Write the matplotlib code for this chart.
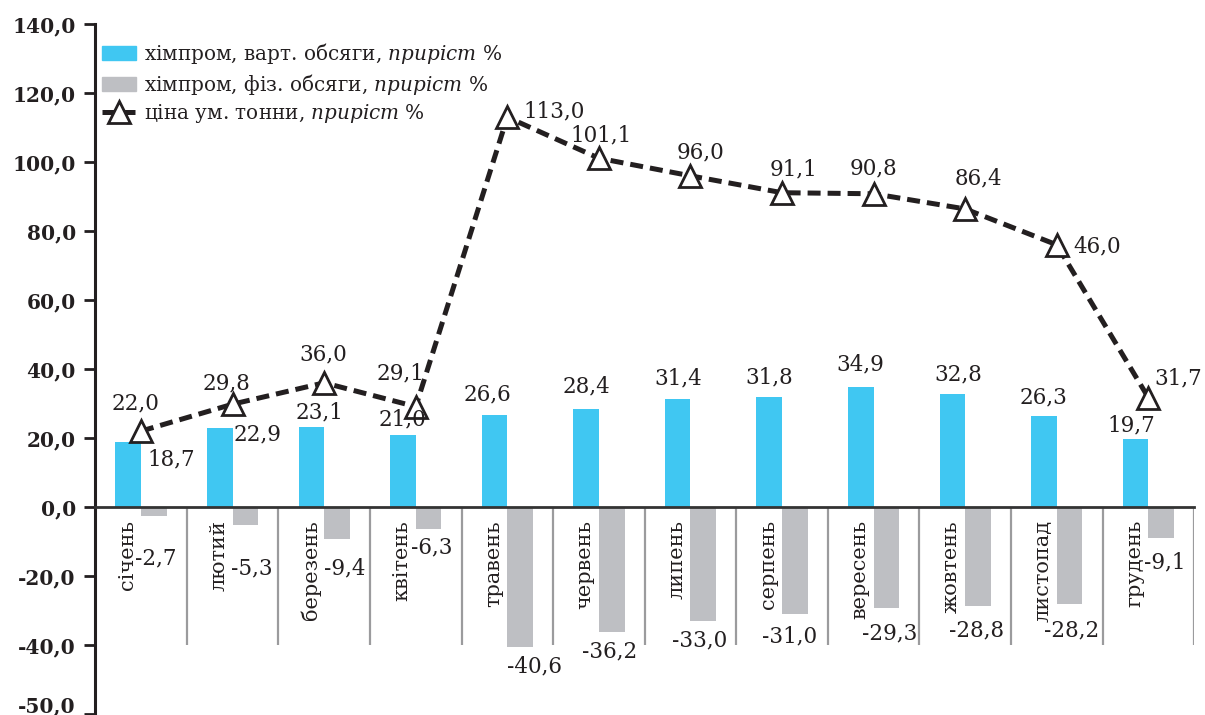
import numpy as np
import matplotlib
matplotlib.use("Agg")
import matplotlib.pyplot as plt
from matplotlib.patches import Patch
from matplotlib.lines import Line2D
from matplotlib.transforms import ScaledTranslation

plt.rcParams['font.family'] = ['DejaVu Serif', 'DejaVu Sans']
plt.rcParams['mathtext.fontset'] = 'custom'
plt.rcParams['mathtext.rm'] = 'DejaVu Serif'
plt.rcParams['mathtext.it'] = 'DejaVu Serif:italic'

#-- Data
months = ['січень', 'лютий', 'березень', 'квітень', 'травень', 'червень',
          'липень', 'серпень', 'вересень', 'жовтень', 'листопад', 'грудень']
value_growth = [18.7, 22.9, 23.1, 21.0, 26.6, 28.4, 31.4, 31.8, 34.9, 32.8, 26.3, 19.7]
volume_growth = [-2.7, -5.3, -9.4, -6.3, -40.6, -36.2, -33.0, -31.0, -29.3, -28.8, -28.2, -9.1]
price_growth = [22.0, 29.8, 36.0, 29.1, 113.0, 101.1, 96.0, 91.1, 90.8, 86.4, 76.0, 31.7]
price_labels = ['22,0', '29,8', '36,0', '29,1', '113,0', '101,1',
                '96,0', '91,1', '90,8', '86,4', '46,0', '31,7']
y_ticks = [-60, -40, -20, 0, 20, 40, 60, 80, 100, 120, 140]
y_tick_labels = ['-50,0', '-40,0', '-20,0', '0,0', '20,0', '40,0',
                 '60,0', '80,0', '100,0', '120,0', '140,0']
legend_names = ['хімпром, варт. обсяги, ', 'хімпром, фіз. обсяги, ', 'ціна ум. тонни, ']

#-- label offsets in pixels (hand placed, like in the source chart)
value_off = [(43, -17), (38, -6), (8, 15), (0, 15), (-7, 21), (0, 23),
             (1, 20), (0, 20), (0, 22), (6, 19), (0, 19), (-4, 14)]
volume_off = [(2, -42), (6, -43), (8, -29), (3, -19), (14, -19), (-2, -20),
              (-4, -20), (-5, -22), (3, -25), (-1, -24), (2, -26), (4, -24)]
price_off = [(-5, 28), (-6, 21), (-1, 28), (-15, 33), (47, 6), (2, 23),
             (10, 23), (11, 23), (0, 25), (13, 30), (40, -2), (30, 19)]

blue = '#40C7F2'
grey = '#BEBFC3'
ink = '#231F20'
fs = 15.5

def fmt(v):
    return f"{v:.1f}".replace('.', ',')

x = np.arange(len(months))
bw = 0.28

fig = plt.figure(figsize=(12.05, 7.15), dpi=100)
ax = fig.add_axes([0.079, 0.0014, 0.912, 0.965])

ax.bar(x - bw/2, value_growth, bw, color=blue, zorder=2)
ax.bar(x + bw/2, volume_growth, bw, color=grey, zorder=2)
ax.vlines(x + 0.5, -40, 0, colors='#9B9B9D', lw=1.6, zorder=1)

line, = ax.plot(x, price_growth, color=ink, lw=3.6, dashes=(2.6, 1.4),
                marker='^', ms=16, mfc='white', mec=ink, mew=2, zorder=4)

ax.set_xlim(-0.5, len(months) - 0.5)
ax.set_ylim(-60, 140)
ax.set_yticks(y_ticks)
ax.set_yticklabels(y_tick_labels, fontsize=14.5, fontweight='bold', color=ink)
ax.set_xticks([])
ax.tick_params(axis='y', length=8, width=2, color=ink, pad=6)
# bottom label sits at the very edge; lift it a bit so it stays readable
bottom_lbl = ax.get_yticklabels()[0]
bottom_lbl.set_transform(bottom_lbl.get_transform()
                         + ScaledTranslation(0, 10/100, fig.dpi_scale_trans))

for s in ['top', 'right']:
    ax.spines[s].set_visible(False)
ax.spines['left'].set_linewidth(2.2)
ax.spines['left'].set_color(ink)
ax.spines['bottom'].set_position(('data', 0))
ax.spines['bottom'].set_linewidth(2)
ax.spines['bottom'].set_color('#333333')
ax.spines['bottom'].set_zorder(3)

# month names, rotated, hanging under the zero line
for i, m in enumerate(months):
    ax.annotate(m, (i - 0.15, 0), xytext=(0, -13), textcoords='offset pixels',
                rotation=90, ha='center', va='top', fontsize=15, color=ink)

for i in range(len(months)):
    ax.annotate(fmt(value_growth[i]), (i - bw/2, value_growth[i]),
                xytext=value_off[i], textcoords='offset pixels',
                ha='center', va='center', fontsize=fs, color=ink, zorder=5)
    ax.annotate(fmt(volume_growth[i]), (i + bw/2, volume_growth[i]),
                xytext=volume_off[i], textcoords='offset pixels',
                ha='center', va='center', fontsize=fs, color=ink, zorder=5)
    ax.annotate(price_labels[i], (i, price_growth[i]),
                xytext=price_off[i], textcoords='offset pixels',
                ha='center', va='center', fontsize=fs, color=ink, zorder=5)

handles = [Patch(color=blue), Patch(color=grey),
           Line2D([], [], color=ink, lw=3.6, dashes=(2.6, 1.4), marker='^',
                  ms=16, mfc='white', mec=ink, mew=2)]
labels = [n + r'$\mathit{приріст\ \%}$' for n in legend_names]
ax.legend(handles, labels, loc='upper left', bbox_to_anchor=(0.006, 0.975),
          frameon=False, fontsize=14.4, borderpad=0, borderaxespad=0,
          handlelength=1.7, handletextpad=0.4, labelspacing=0.28,
          labelcolor=ink)

fig.savefig('out.png', dpi=100)
